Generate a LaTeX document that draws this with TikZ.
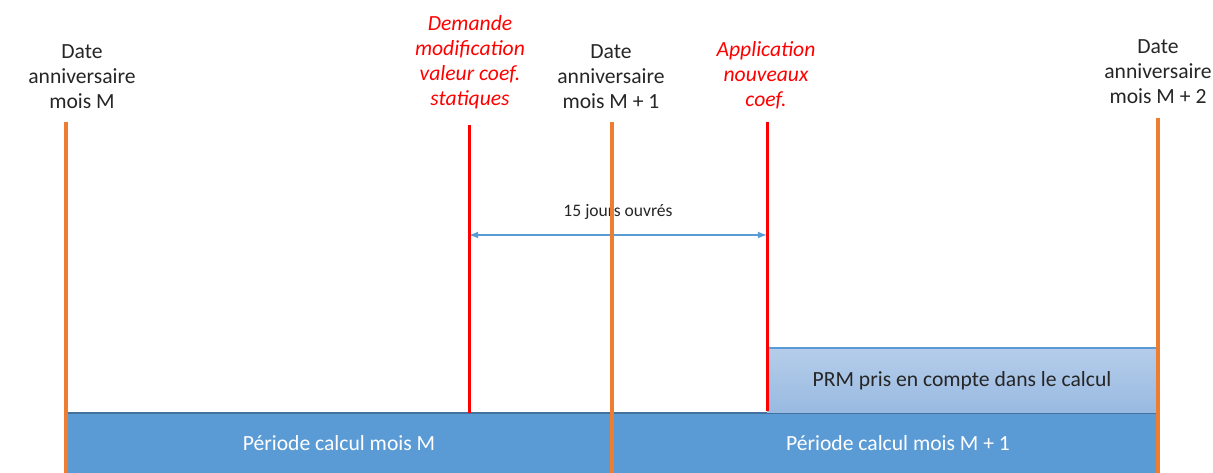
\documentclass[tikz,border=0pt]{standalone}
\usepackage{fontspec}
\setmainfont{Carlito}
\usepackage{tikz}
\usetikzlibrary{arrows}
\tikzset{>=latex}
\definecolor{datecol}{HTML}{ED7D31}
\definecolor{evtcol}{HTML}{FF0000}
\definecolor{barcol}{HTML}{5B9BD5}
\definecolor{baredge}{HTML}{41719C}
\definecolor{prmtop}{HTML}{B5CDEA}
\definecolor{prmbot}{HTML}{99BAE1}
\tikzset{
  datelbl/.style={align=center,font=\fontsize{12.3}{14.2}\selectfont,text=black!85},
  evtlbl/.style={align=center,font=\fontsize{12.3}{14.2}\selectfont\itshape,text=evtcol},
  dateline/.style={datecol,line width=2.3pt},
  evtline/.style={evtcol,line width=1.7pt},
  barlbl/.style={font=\fontsize{12.3}{14}\selectfont}
}

\begin{document}
\begin{tikzpicture}[x=0.02cm,y=-0.02cm]
       \useasboundingbox (0,0) rectangle (1213,473);
       % periodes de calcul
       \fill[barcol] (66,413) rectangle (1158,473);
       \draw[baredge,line width=0.8pt] (66,413) -- (1158,413);
       \shade[top color=prmtop,bottom color=prmbot] (767,348) rectangle (1158,412);
       \draw[barcol,line width=0.8pt] (767,348) -- (1158,348);
       \node[barlbl,text=white] (perM) at (339,443) {Période calcul mois M};
       \node[barlbl,text=white] (perM1) at (898,443) {Période calcul mois M + 1};
       \node[barlbl,text=black!85] (prm) at (962,381) {PRM pris en compte dans le calcul};
       % dates anniversaire
       \node[datelbl] (dM) at (82,77) {Date\\anniversaire\\mois M};
       \node[datelbl] (dM1) at (611,77) {Date\\anniversaire\\mois M + 1};
       \node[datelbl] (dM2) at (1158,72) {Date\\anniversaire\\mois M + 2};
       \coordinate (tM) at (66,122);  \coordinate (bM) at (66,473);
       \coordinate (tM1) at (612,122); \coordinate (bM1) at (612,473);
       \coordinate (tM2) at (1158,118); \coordinate (bM2) at (1158,473);
       % evenements
       \node[evtlbl] (dem) at (470,62) {Demande\\modification\\valeur coef.\\statiques};
       \node[evtlbl] (app) at (766,75) {Application\\nouveaux\\coef.};
       \coordinate (tDem) at (469,125); \coordinate (bDem) at (469,413);
       \coordinate (tApp) at (767,122); \coordinate (bApp) at (767,411);
       \coordinate (aDem) at (469,235); \coordinate (aApp) at (767,235);
       \draw[<->,barcol,line width=0.8pt] (aDem) -- node[above=5pt,text=black!85,font=\fontsize{10}{12}\selectfont]{15 jours ouvrés} (aApp);
       \draw[dateline] (tM) -- (bM);
       \draw[dateline] (tM1) -- (bM1);
       \draw[dateline] (tM2) -- (bM2);
       \draw[evtline] (tDem) -- (bDem);
       \draw[evtline] (tApp) -- (bApp);
      \end{tikzpicture}
\end{document}
